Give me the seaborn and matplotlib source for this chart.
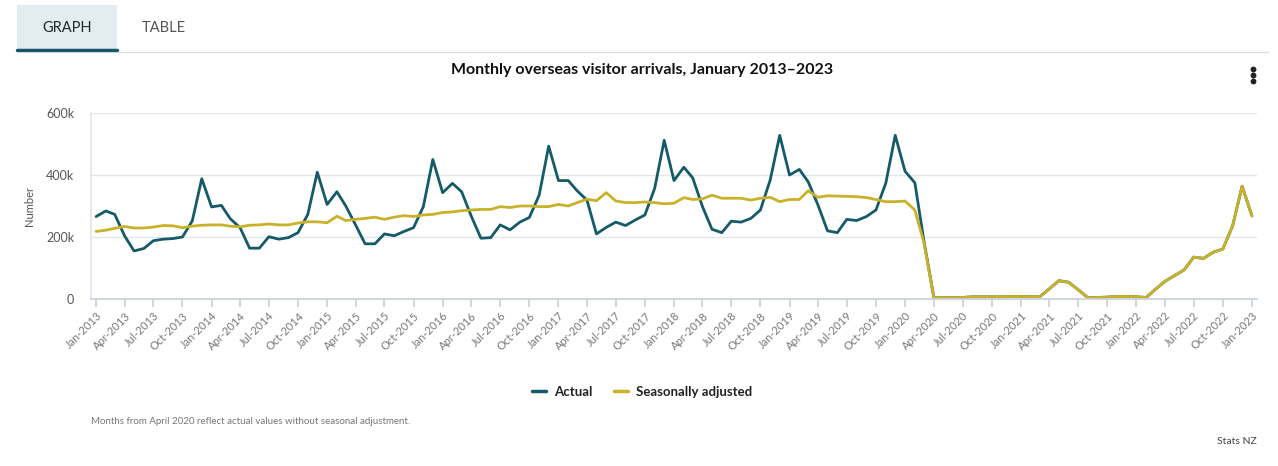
import pandas as pd
import matplotlib.pyplot as plt
import matplotlib.dates as mdates
from matplotlib.patches import Rectangle
from matplotlib.lines import Line2D
import seaborn as sns

# --- data (thousands of visitors), Jan 2013 .. Jan 2023 ---
START_MONTH = '2013-01-01'
N_MONTHS = 121

actual_k = [
    266, 284, 273, 204, 155, 163, 188, 193, 195, 200, 252, 388,   # 2013
    297, 302, 259, 230, 164, 164, 201, 193, 198, 214, 273, 409,   # 2014
    305, 346, 300, 239, 178, 178, 210, 204, 218, 230, 298, 450,   # 2015
    343, 373, 346, 266, 196, 198, 239, 223, 248, 263, 335, 493,   # 2016
    382, 382, 349, 319, 210, 231, 248, 237, 255, 271, 357, 512,   # 2017
    382, 425, 391, 298, 225, 214, 251, 248, 260, 287, 384, 528,   # 2018
    400, 418, 378, 303, 220, 214, 257, 253, 266, 287, 373, 528,   # 2019
    412, 375, 185, 5, 4, 4, 5, 7, 7, 7, 7, 8,                     # 2020
    8, 7, 7, 33, 59, 54, 30, 4, 5, 6, 8, 8,                       # 2021
    7, 5, 30, 57, 75, 94, 135, 131, 151, 161, 236, 364,           # 2022
    268,                                                          # 2023
]

seasonal_k = [
    218, 222, 228, 234, 229, 229, 232, 237, 236, 230, 235, 238,   # 2013
    239, 239, 235, 233, 238, 239, 242, 239, 239, 245, 249, 249,   # 2014
    246, 267, 253, 257, 260, 264, 257, 264, 269, 266, 271, 273,   # 2015
    279, 281, 285, 287, 289, 289, 298, 295, 300, 300, 298, 298,   # 2016
    305, 300, 311, 322, 317, 343, 316, 311, 311, 313, 311, 307,   # 2017
    309, 327, 321, 323, 335, 325, 325, 325, 319, 325, 328, 314,   # 2018
    321, 321, 349, 328, 333, 332, 331, 330, 327, 321, 314, 314,   # 2019
    316, 287, 180, 5, 4, 4, 5, 7, 7, 7, 7, 8,                     # 2020
    8, 7, 7, 33, 59, 54, 30, 4, 5, 6, 8, 8,                       # 2021
    7, 5, 30, 57, 75, 94, 135, 131, 151, 161, 236, 364,           # 2022
    268,                                                          # 2023
]

y_ticks = [0, 200000, 400000, 600000]
y_tick_labels = ['0', '200k', '400k', '600k']

ACTUAL_COLOR = '#155a69'
SEASONAL_COLOR = '#c9b22a'
GRID_COLOR = '#e3e6ea'
AXIS_COLOR = '#c8d2da'
TEXT_GRAY = '#777777'

# --- long-form table for seaborn ---
months = pd.date_range(START_MONTH, periods=N_MONTHS, freq='MS')
df = pd.concat([
    pd.DataFrame({'month': months, 'value': [v * 1000 for v in actual_k],
                  'series': 'Actual'}),
    pd.DataFrame({'month': months, 'value': [v * 1000 for v in seasonal_k],
                  'series': 'Seasonally adjusted'}),
])

sns.set_theme(style='white')
plt.rcParams['font.family'] = ['Lato', 'DejaVu Sans']

fig = plt.figure(figsize=(12.78, 4.66), dpi=100)
ax = fig.add_axes([91 / 1278, 167 / 466, 1166 / 1278, 186 / 466])

sns.lineplot(data=df, x='month', y='value', hue='series',
             palette={'Actual': ACTUAL_COLOR, 'Seasonally adjusted': SEASONAL_COLOR},
             hue_order=['Actual', 'Seasonally adjusted'],
             linewidth=2.0, legend=False, ax=ax)

# --- axes ---
ax.set_ylim(0, 600000)
ax.set_yticks(y_ticks)
ax.set_yticklabels(y_tick_labels)
ax.set_xlim(pd.Timestamp('2012-12-16'), pd.Timestamp('2023-01-17'))
ax.xaxis.set_major_locator(mdates.MonthLocator(bymonth=[1, 4, 7, 10]))
ax.xaxis.set_major_formatter(mdates.DateFormatter('%b-%Y'))
plt.setp(ax.get_xticklabels(), rotation=45, ha='right', rotation_mode='anchor')

ax.grid(True, axis='y', color=GRID_COLOR, linewidth=1)
ax.set_axisbelow(True)
for side in ['top', 'right']:
    ax.spines[side].set_visible(False)
ax.spines['left'].set_color(GRID_COLOR)
ax.spines['bottom'].set_color(AXIS_COLOR)
ax.tick_params(axis='x', which='major', length=6, color=AXIS_COLOR,
               labelsize=8, labelcolor=TEXT_GRAY, pad=2, bottom=True)
ax.tick_params(axis='y', length=0, labelsize=9, labelcolor='#555555', pad=12)
ax.set_xlabel('')
ax.set_ylabel('Number', fontsize=8, color='#555555', labelpad=8)

# --- title, tabs, legend, notes ---
fig.text(642 / 1278, 1 - 70 / 466, 'Monthly overseas visitor arrivals, January 2013\u20132023',
         ha='center', va='center', fontsize=11.5, fontweight='bold', color='#111111')

fig.patches.append(Rectangle((17 / 1278, 1 - 51 / 466), 100 / 1278, 46 / 466,
                             transform=fig.transFigure, facecolor='#e3edf0',
                             edgecolor='none', zorder=0))
fig.lines.append(Line2D([17 / 1278, 117 / 1278], [1 - 50 / 466, 1 - 50 / 466],
                        transform=fig.transFigure, color='#16566a', linewidth=2.5))
fig.lines.append(Line2D([117 / 1278, 1268 / 1278], [1 - 52 / 466, 1 - 52 / 466],
                        transform=fig.transFigure, color='#dddddd', linewidth=1))
fig.text(67 / 1278, 1 - 28 / 466, 'GRAPH', ha='center', va='center',
         fontsize=10.5, color='#1b2a30')
fig.text(164 / 1278, 1 - 28 / 466, 'TABLE', ha='center', va='center',
         fontsize=10.5, color='#555555')

# kebab menu
fig.lines.append(Line2D([1253 / 1278] * 3, [1 - 69 / 466, 1 - 75 / 466, 1 - 81 / 466],
                        transform=fig.transFigure, linestyle='none', marker='o',
                        markersize=3.2, color='#222222'))

handles = [Line2D([], [], color=ACTUAL_COLOR, linewidth=2.5),
           Line2D([], [], color=SEASONAL_COLOR, linewidth=2.5)]
leg = fig.legend(handles, ['Actual', 'Seasonally adjusted'], loc='center',
                 bbox_to_anchor=(642 / 1278, 1 - 392 / 466), ncol=2, frameon=False,
                 handlelength=1.1, handletextpad=0.6, columnspacing=1.6,
                 prop={'size': 9.5, 'weight': 'bold'})
for t in leg.get_texts():
    t.set_color('#222222')

fig.text(91 / 1278, 1 - 421 / 466,
         'Months from April 2020 reflect actual values without seasonal adjustment.',
         ha='left', va='center', fontsize=7, color='#777777')
fig.text(1257 / 1278, 1 - 442 / 466, 'Stats NZ', ha='right', va='center',
         fontsize=7.5, color='#444444')

fig.savefig('out.png', dpi=100)
